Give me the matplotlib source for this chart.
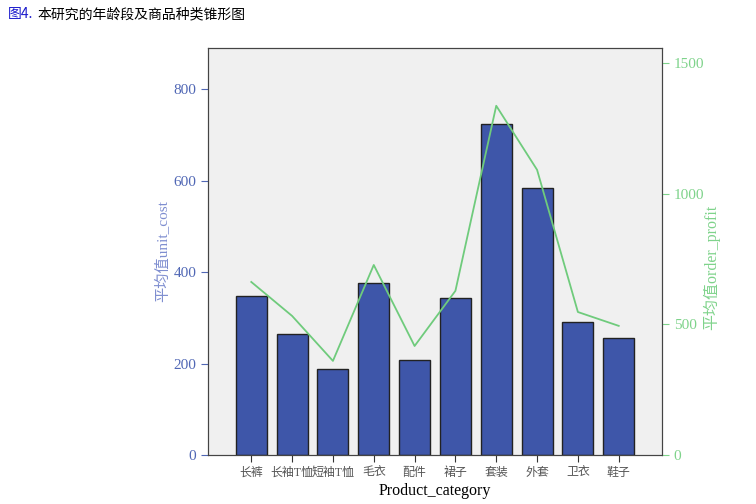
import numpy as np
import matplotlib.pyplot as plt

plt.rcParams['font.family'] = ['Liberation Serif', 'Noto Sans CJK SC', 'DejaVu Sans']

categories = ["长裤", "长袖T恤", "短袖T恤", "毛衣", "配件", "裙子", "套装", "外套", "卫衣", "鞋子"]
unit_cost = [347, 264, 188, 376, 208, 343, 723, 584, 291, 256]
order_profit = [662, 532, 360, 727, 417, 628, 1336, 1091, 547, 494]

bar_color = "#3E56A9"
line_color = "#6FCB7C"
left_tick_color = "#5067B5"
right_tick_color = "#7FD38B"

fig = plt.figure(figsize=(7.56, 5.04), dpi=100)
ax = fig.add_axes([208 / 756, 1 - 455 / 504, 454 / 756, 407 / 504])
ax.set_facecolor("#F0F0F0")

x = np.arange(len(categories))
ax.bar(x, unit_cost, width=0.76, color=bar_color, edgecolor="#222222", linewidth=1.0, zorder=2)
ax.set_xlim(-1.06, len(categories) - 1 + 1.06)
ax.set_ylim(0, 890)
ax.set_yticks([0, 200, 400, 600, 800])
ax.tick_params(axis="y", colors=left_tick_color, labelsize=11, length=5)
ax.tick_params(axis="x", colors="#333333", labelsize=8.6, length=5, labelcolor="#555555")
ax.set_xticks(x)
ax.set_xticklabels(categories)
ax.set_xlabel("Product_category", fontsize=11.5, labelpad=3)
ax.set_ylabel("平均值unit_cost", color="#7F8ED0", fontsize=11, labelpad=2)
for s in ax.spines.values():
    s.set_color("#444444")

ax2 = ax.twinx()
ax2.plot(x, order_profit, color=line_color, linewidth=1.3, zorder=3)
ax2.set_ylim(0, 1557)
ax2.set_yticks([0, 500, 1000, 1500])
ax2.tick_params(axis="y", colors=right_tick_color, labelsize=11, length=5)
ax2.set_ylabel("平均值order_profit", color=right_tick_color, fontsize=11.5)
ax2.yaxis.set_label_coords(1.09, 0.46)
for s in ax2.spines.values():
    s.set_color("#444444")

fig.text(0.01, 1 - 14 / 504, "图4.", color="#1a1acc", fontsize=10, va="center",
         family=['Noto Sans CJK SC', 'DejaVu Sans'])
fig.text(0.01 + 30 / 756, 1 - 14 / 504, "本研究的年龄段及商品种类锥形图", color="black", fontsize=10, va="center",
         family=['Noto Sans CJK SC', 'DejaVu Sans'])

fig.savefig("out.png", dpi=100)
